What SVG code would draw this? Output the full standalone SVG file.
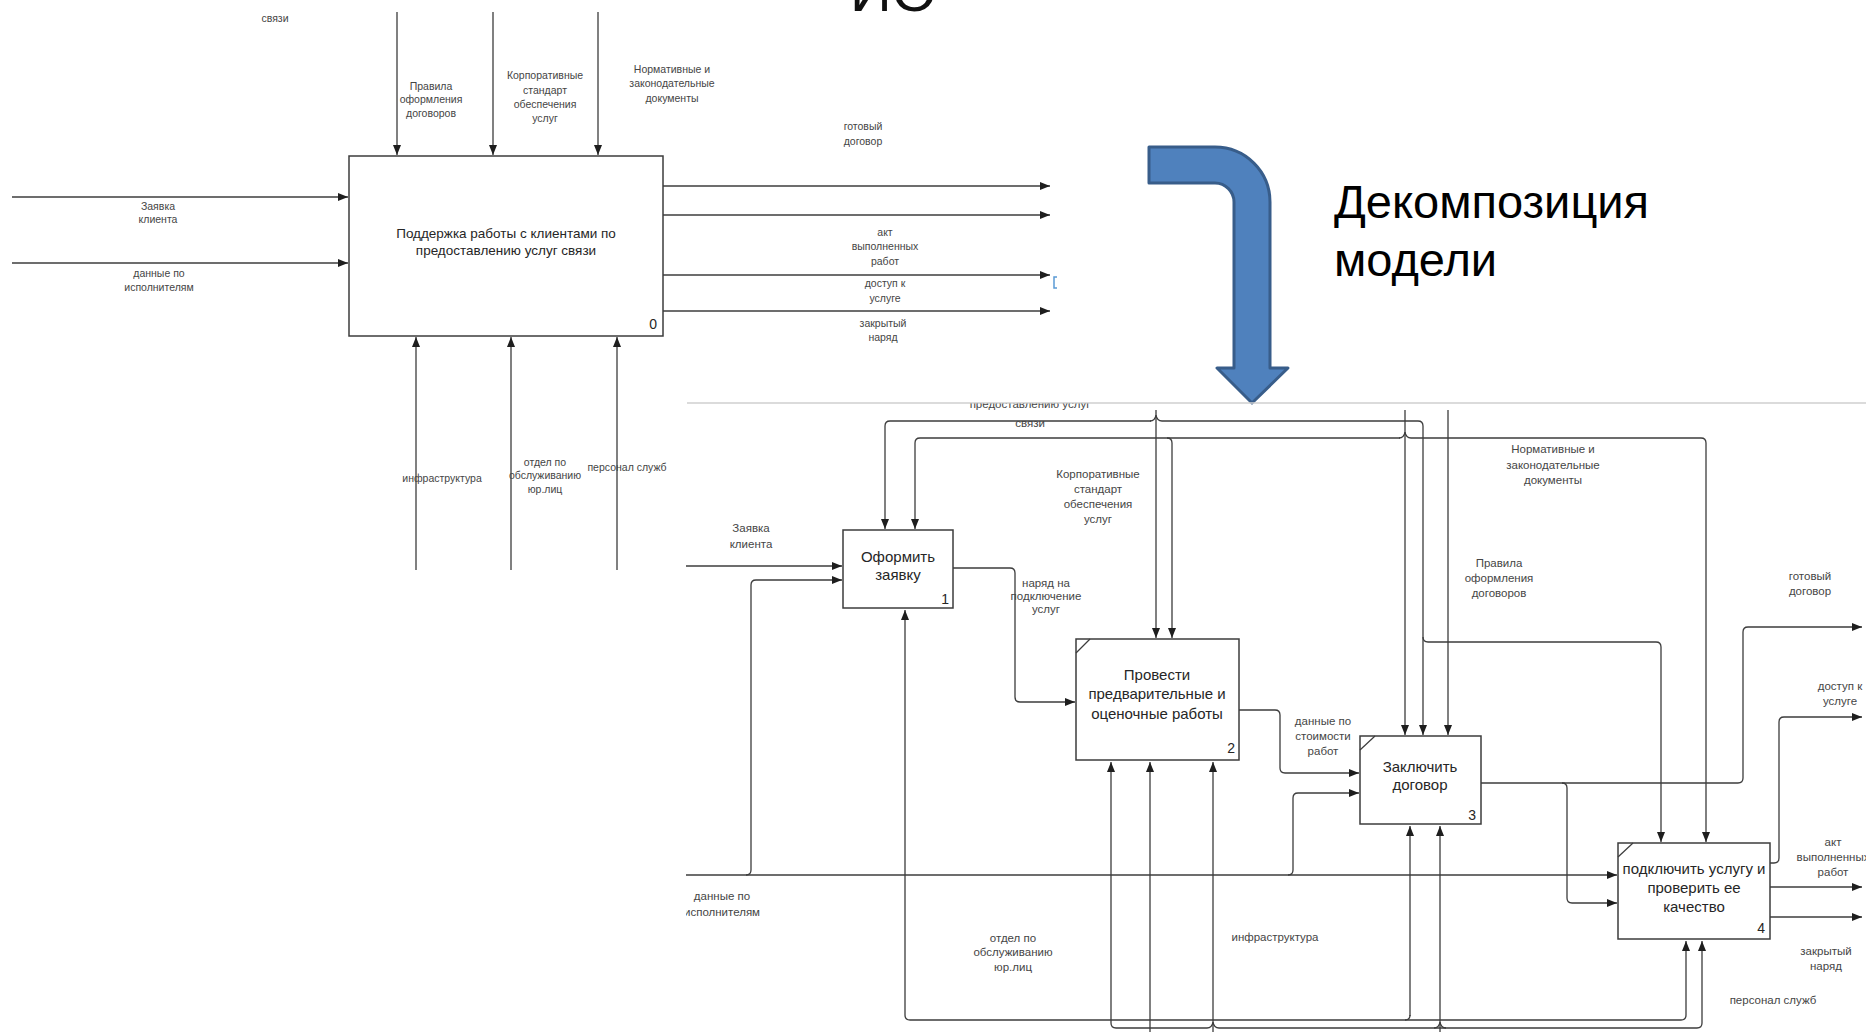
<svg xmlns="http://www.w3.org/2000/svg" width="1866" height="1032" viewBox="0 0 1866 1032">
  <style>
    text { font-family: "Liberation Sans", Arial, sans-serif; }
    .lbl { font-size: 10.5px; fill: #454545; text-anchor: middle; }
    .lbl2 { font-size: 11.5px; fill: #454545; text-anchor: middle; }
    .btxt { font-size: 15px; fill: #262626; text-anchor: middle; }
    .btxt0 { font-size: 13.5px; fill: #262626; text-anchor: middle; }
    .num { font-size: 14px; fill: #262626; text-anchor: end; }
    .box { fill: #ffffff; stroke: #3c3c3c; stroke-width: 1.5; }
    .ln { fill: none; stroke: #3c3c3c; stroke-width: 1.3; }
    .arr { fill: none; stroke: #3c3c3c; stroke-width: 1.3; marker-end: url(#ah); }
    .corner { fill: none; stroke: #3c3c3c; stroke-width: 1.2; }
  </style>
  <defs>
    <marker id="ah" markerUnits="userSpaceOnUse" markerWidth="10" markerHeight="8" refX="10" refY="4" orient="auto">
      <path d="M0,0 L10,4 L0,8 z" fill="#1e1e1e"/>
    </marker>
    <clipPath id="lowerClip">
      <rect x="686" y="403.5" width="1180" height="629"/>
    </clipPath>
  </defs>
  <rect width="1866" height="1032" fill="#ffffff"/>

  <!-- heading fragment -->
  <text x="850" y="11" font-size="58" fill="#111">ИО</text>

  <!-- ===== context diagram (A-0) ===== -->
  <g id="context">
    <text class="lbl" x="275" y="22">связи</text>

    <g id="a0-connectors">
      <path class="arr" d="M12,197 H348"/>
      <path class="arr" d="M12,263 H348"/>
      <path class="arr" d="M397,12 V155"/>
      <path class="arr" d="M493,12 V155"/>
      <path class="arr" d="M598,12 V155"/>
      <path class="arr" d="M663,186 H1050"/>
      <path class="arr" d="M663,215 H1050"/>
      <path class="arr" d="M663,275 H1050"/>
      <path class="arr" d="M663,311 H1050"/>
      <path class="arr" d="M416,570 V337"/>
      <path class="arr" d="M511,570 V337"/>
      <path class="arr" d="M617,570 V337"/>
      <path d="M1057,277 H1054 V288 H1057" fill="none" stroke="#5b9bd5" stroke-width="1.5"/>
    </g>

    <g id="a0-labels">
      <text class="lbl"><tspan x="158" y="210">Заявка</tspan><tspan x="158" y="223">клиента</tspan></text>
      <text class="lbl"><tspan x="159" y="277">данные по</tspan><tspan x="159" y="291">исполнителям</tspan></text>
      <text class="lbl"><tspan x="431" y="90">Правила</tspan><tspan x="431" y="103">оформления</tspan><tspan x="431" y="117">договоров</tspan></text>
      <text class="lbl"><tspan x="545" y="79">Корпоративные</tspan><tspan x="545" y="94">стандарт</tspan><tspan x="545" y="108">обеспечения</tspan><tspan x="545" y="122">услуг</tspan></text>
      <text class="lbl"><tspan x="672" y="73">Нормативные и</tspan><tspan x="672" y="87">законодательные</tspan><tspan x="672" y="102">документы</tspan></text>
      <text class="lbl"><tspan x="863" y="130">готовый</tspan><tspan x="863" y="145">договор</tspan></text>
      <text class="lbl"><tspan x="885" y="236">акт</tspan><tspan x="885" y="250">выполненных</tspan><tspan x="885" y="265">работ</tspan></text>
      <text class="lbl"><tspan x="885" y="287">доступ к</tspan><tspan x="885" y="302">услуге</tspan></text>
      <text class="lbl"><tspan x="883" y="327">закрытый</tspan><tspan x="883" y="341">наряд</tspan></text>
      <text class="lbl" x="442" y="482">инфраструктура</text>
      <text class="lbl"><tspan x="545" y="466">отдел по</tspan><tspan x="545" y="479">обслуживанию</tspan><tspan x="545" y="493">юр.лиц</tspan></text>
      <text class="lbl" x="627" y="471">персонал служб</text>
    </g>

    <g id="node-a0">
      <rect class="box" x="349" y="156" width="314" height="180"/>
      <text class="btxt0"><tspan x="506" y="238">Поддержка работы с клиентами по</tspan><tspan x="506" y="255">предоставлению услуг связи</tspan></text>
      <text class="num" x="657" y="329">0</text>
    </g>
  </g>

  <!-- ===== decomposition arrow ===== -->
  <g id="decomposition-arrow">
    <path d="M1149,147 H1215 A55,55 0 0 1 1270,202 V368 H1288 L1252,403 L1217,368 H1234 V202 A19,19 0 0 0 1215,183 H1149 Z" fill="#4f81bd" stroke="#385d8a" stroke-width="3" stroke-linejoin="round"/>
    <text font-size="47" fill="#000"><tspan x="1334" y="218">Декомпозиция</tspan><tspan x="1334" y="276">модели</tspan></text>
  </g>

  <!-- ===== child diagram (A0) ===== -->
  <line x1="687" y1="403" x2="1866" y2="403" stroke="#cfcfcf" stroke-width="1.5"/>
  <g id="child" clip-path="url(#lowerClip)">
    <g id="a1-connectors">
      <!-- controls from the top boundary -->
      <path class="arr" d="M1151,421 H890 Q885,421 885,426 V529"/>
      <path class="arr" d="M1156,410 V638"/>
      <path class="ln" d="M1150,421 Q1155,421 1156,415 Q1157,421 1162,421"/>
      <path class="arr" d="M1162,421 H1418 Q1423,421 1423,426 V735"/>
      <path class="arr" d="M1423,637 Q1423,642 1428,642 H1656 Q1661,642 1661,647 V842"/>
      <path class="arr" d="M1400,438 H920 Q915,438 915,443 V529"/>
      <path class="arr" d="M1167,438 Q1172,438 1172,443 V638"/>
      <path class="arr" d="M1405,410 V735"/>
      <path class="ln" d="M1399,438 Q1404,438 1405,432 Q1406,438 1411,438"/>
      <path class="arr" d="M1411,438 H1701 Q1706,438 1706,443 V842"/>
      <path class="arr" d="M1448,410 V735"/>

      <!-- inputs -->
      <path class="arr" d="M686,566 H842"/>
      <path class="arr" d="M685,875 H1617"/>
      <path class="arr" d="M746,875 Q751,875 751,870 V585 Q751,580 756,580 H842"/>
      <path class="arr" d="M1288,875 Q1293,875 1293,870 V798 Q1293,793 1298,793 H1359"/>

      <!-- outputs between activities -->
      <path class="arr" d="M953,568 H1010 Q1015,568 1015,573 V697 Q1015,702 1020,702 H1075"/>
      <path class="arr" d="M1239,710 H1275 Q1280,710 1280,715 V768 Q1280,773 1285,773 H1359"/>
      <path class="arr" d="M1481,783 H1738 Q1743,783 1743,778 V632 Q1743,627 1748,627 H1862"/>
      <path class="arr" d="M1562,783 Q1567,783 1567,788 V898 Q1567,903 1572,903 H1617"/>
      <path class="arr" d="M1770,863 H1774 Q1779,863 1779,858 V722 Q1779,717 1784,717 H1862"/>
      <path class="arr" d="M1770,887 H1862"/>
      <path class="arr" d="M1770,917 H1862"/>

      <!-- mechanisms from the bottom boundary -->
      <path class="arr" d="M1160,1020 H910 Q905,1020 905,1015 V610"/>
      <path class="ln" d="M1160,1020 H1405 Q1410,1020 1410,1015"/>
      <path class="arr" d="M1410,1016 V826"/>
      <path class="arr" d="M1405,1020 H1681 Q1686,1020 1686,1015 V941"/>
      <path class="arr" d="M1150,1032 V762"/>
      <path class="arr" d="M1213,1032 V762"/>
      <path class="ln" d="M1207,1028 Q1212,1028 1213,1022 Q1214,1028 1219,1028"/>
      <path class="arr" d="M1207,1028 H1116 Q1111,1028 1111,1023 V762"/>
      <path class="arr" d="M1219,1028 H1697 Q1702,1028 1702,1023 V941"/>
      <path class="arr" d="M1440,1032 V826"/>
      <path class="ln" d="M1434,1028 Q1439,1028 1440,1022 Q1441,1028 1446,1028"/>
    </g>

    <g id="a1-labels">
      <text class="lbl2" x="1030" y="408">предоставлению услуг</text>
      <text class="lbl2" x="1030" y="427">связи</text>
      <text class="lbl2"><tspan x="751" y="532">Заявка</tspan><tspan x="751" y="548">клиента</tspan></text>
      <text class="lbl2"><tspan x="722" y="900">данные по</tspan><tspan x="722" y="916">исполнителям</tspan></text>
      <text class="lbl2"><tspan x="1098" y="478">Корпоративные</tspan><tspan x="1098" y="493">стандарт</tspan><tspan x="1098" y="508">обеспечения</tspan><tspan x="1098" y="523">услуг</tspan></text>
      <text class="lbl2"><tspan x="1046" y="587">наряд на</tspan><tspan x="1046" y="600">подключение</tspan><tspan x="1046" y="613">услуг</tspan></text>
      <text class="lbl2"><tspan x="1323" y="725">данные по</tspan><tspan x="1323" y="740">стоимости</tspan><tspan x="1323" y="755">работ</tspan></text>
      <text class="lbl2"><tspan x="1553" y="453">Нормативные и</tspan><tspan x="1553" y="469">законодательные</tspan><tspan x="1553" y="484">документы</tspan></text>
      <text class="lbl2"><tspan x="1499" y="567">Правила</tspan><tspan x="1499" y="582">оформления</tspan><tspan x="1499" y="597">договоров</tspan></text>
      <text class="lbl2"><tspan x="1810" y="580">готовый</tspan><tspan x="1810" y="595">договор</tspan></text>
      <text class="lbl2"><tspan x="1840" y="690">доступ к</tspan><tspan x="1840" y="705">услуге</tspan></text>
      <text class="lbl2"><tspan x="1833" y="846">акт</tspan><tspan x="1833" y="861">выполненных</tspan><tspan x="1833" y="876">работ</tspan></text>
      <text class="lbl2"><tspan x="1826" y="955">закрытый</tspan><tspan x="1826" y="970">наряд</tspan></text>
      <text class="lbl2" x="1773" y="1004">персонал служб</text>
      <text class="lbl2"><tspan x="1013" y="942">отдел по</tspan><tspan x="1013" y="956">обслуживанию</tspan><tspan x="1013" y="971">юр.лиц</tspan></text>
      <text class="lbl2" x="1275" y="941">инфраструктура</text>
    </g>

    <g id="node-1">
      <rect class="box" x="843" y="530" width="110" height="78"/>
      <text class="btxt"><tspan x="898" y="562">Оформить</tspan><tspan x="898" y="580">заявку</tspan></text>
      <text class="num" x="949" y="604">1</text>
    </g>
    <g id="node-2">
      <rect class="box" x="1076" y="639" width="163" height="121"/>
      <path class="corner" d="M1076,653 L1090,639"/>
      <text class="btxt"><tspan x="1157" y="680">Провести</tspan><tspan x="1157" y="699">предварительные и</tspan><tspan x="1157" y="719">оценочные работы</tspan></text>
      <text class="num" x="1235" y="753">2</text>
    </g>
    <g id="node-3">
      <rect class="box" x="1360" y="736" width="121" height="88"/>
      <path class="corner" d="M1360,750 L1375,736"/>
      <text class="btxt"><tspan x="1420" y="772">Заключить</tspan><tspan x="1420" y="790">договор</tspan></text>
      <text class="num" x="1476" y="820">3</text>
    </g>
    <g id="node-4">
      <rect class="box" x="1618" y="843" width="152" height="96"/>
      <path class="corner" d="M1618,857 L1633,843"/>
      <text class="btxt"><tspan x="1694" y="874">подключить услугу и</tspan><tspan x="1694" y="893">проверить ее</tspan><tspan x="1694" y="912">качество</tspan></text>
      <text class="num" x="1765" y="933">4</text>
    </g>
  </g>
</svg>
